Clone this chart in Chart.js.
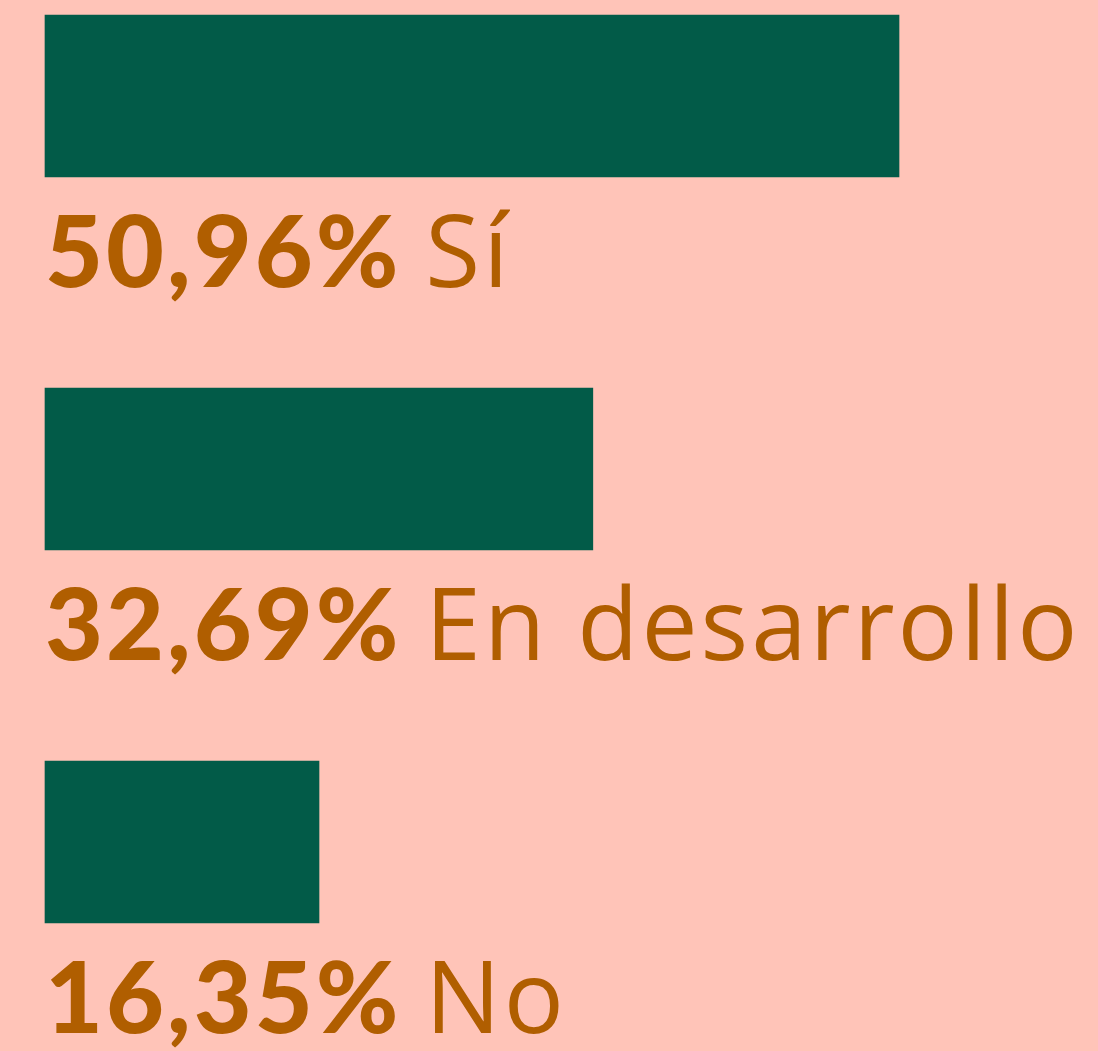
<!DOCTYPE html>
<html>
<head>
<meta charset="utf-8">
<script src="https://cdn.jsdelivr.net/npm/chart.js@4"></script>
<style>
  html, body { margin: 0; padding: 0; background: #ffc4b8; }
  #wrap { width: 1098px; height: 1051px; position: relative; }
</style>
</head>
<body>
<div id="wrap"><canvas id="chart"></canvas></div>
<script>
const categories = ['Sí', 'En desarrollo', 'No'];
const percentages = [50.96, 32.69, 16.35];
const valueLabels = ['50,96%', '32,69%', '16,35%'];

// draws "xx,xx% label" under each bar
const labelsBelow = {
    id: 'labelsBelow',
    afterDatasetsDraw(chart) {
        const ctx = chart.ctx;
        const meta = chart.getDatasetMeta(0);
        ctx.save();
        ctx.fillStyle = '#b05e00';
        ctx.textBaseline = 'alphabetic';
        meta.data.forEach((bar, i) => {
            const x = bar.base;
            const y = bar.y + bar.height / 2 + 110;
            ctx.font = '900 100px Lato';
            ctx.letterSpacing = '3px';
            ctx.fillText(valueLabels[i], x, y);
            const w = ctx.measureText(valueLabels[i]).width;
            ctx.font = '400 100px "Open Sans"';
            ctx.letterSpacing = '3px';
            ctx.fillText(categories[i], x + w + 24, y);
        });
        ctx.restore();
    }
};

const ctx = document.getElementById('chart');
new Chart(ctx, {
    type: 'bar',
    data: {
        labels: categories,
        datasets: [{
            data: percentages,
            backgroundColor: '#025b48',
            barThickness: 162,
            clip: false
        }]
    },
    options: {
        indexAxis: 'y',
        responsive: true,
        maintainAspectRatio: false,
        animation: false,
        layout: { padding: { left: 45, right: 47.5, top: 96, bottom: 209 } },
        scales: {
            x: { display: false, min: 0, max: 60 },
            y: { display: false, offset: false }
        },
        plugins: {
            legend: { display: false },
            tooltip: { enabled: false }
        }
    },
    plugins: [labelsBelow]
});
</script>
</body>
</html>
